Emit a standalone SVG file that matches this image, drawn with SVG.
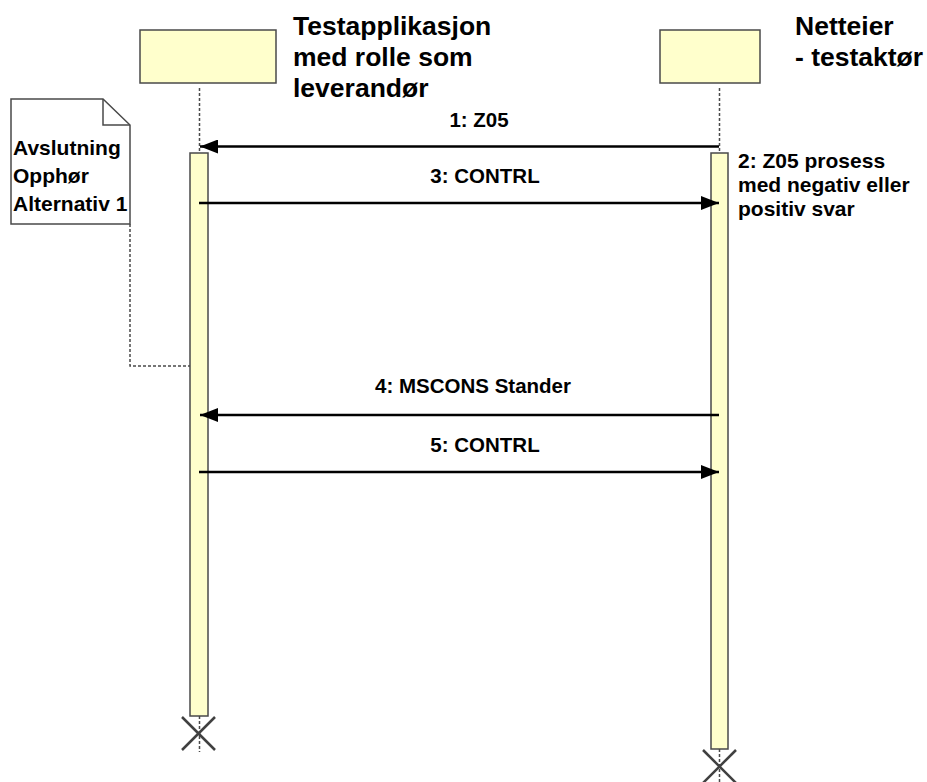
<svg xmlns="http://www.w3.org/2000/svg" width="927" height="782" viewBox="0 0 927 782">
<defs>
<style>
.head{fill:#FFFFCC;stroke:#4a4a4a;stroke-width:1.5}
.act{fill:#FFFFCC;stroke:#4a4a4a;stroke-width:1.5}
.life{stroke:#4a4a4a;stroke-width:1.5;stroke-dasharray:3,2;fill:none}
.msg{stroke:#000;stroke-width:2.5;fill:none}
.t{font-family:"Liberation Sans",Arial,sans-serif;font-weight:bold;fill:#000}
.h{font-size:26.5px}
.l{font-size:20.5px;text-anchor:middle}
.n{font-size:21px}
.x{stroke:#404040;stroke-width:2.5}
</style>
<marker id="ah" viewBox="0 0 18 14" refX="18" refY="7" markerWidth="18" markerHeight="14" markerUnits="userSpaceOnUse" orient="auto">
<path d="M0,0 L18,7 L0,14 z" fill="#000"/>
</marker>
</defs>
<g id="lifeline-left">
<rect class="head" x="140" y="30" width="136" height="53"/>
<line class="life" x1="199.5" y1="88" x2="199.5" y2="153"/>
<rect class="act" x="190" y="153" width="18" height="563"/>
<line class="life" x1="199.5" y1="716" x2="199.5" y2="752"/>
<line class="x" x1="182" y1="717" x2="215" y2="750"/>
<line class="x" x1="215" y1="717" x2="182" y2="750"/>
<text class="t h" x="293" y="35">Testapplikasjon</text>
<text class="t h" x="293" y="66">med rolle som</text>
<text class="t h" x="293" y="97">leverandør</text>
</g>
<g id="lifeline-right">
<rect class="head" x="660" y="30" width="100" height="53"/>
<line class="life" x1="719.5" y1="88" x2="719.5" y2="153"/>
<rect class="act" x="711" y="153" width="17" height="596"/>
<line class="life" x1="719.5" y1="749" x2="719.5" y2="782"/>
<line class="x" x1="703" y1="750" x2="736" y2="783"/>
<line class="x" x1="736" y1="750" x2="703" y2="783"/>
<text class="t h" x="795" y="35">Netteier</text>
<text class="t h" x="795" y="66">- testaktør</text>
</g>
<g id="note">
<path d="M11,99 L103,99 L130,125 L130,224 L11,224 Z" fill="#fff" stroke="#4a4a4a" stroke-width="1.5"/>
<path d="M103,99 L103,125 L130,125" fill="none" stroke="#4a4a4a" stroke-width="1.5"/>
<text class="t n" x="13" y="155">Avslutning</text>
<text class="t n" x="13" y="183">Opphør</text>
<text class="t n" x="13" y="211">Alternativ 1</text>
</g>
<g id="process-label">
<text class="t n" x="738" y="168">2: Z05 prosess</text>
<text class="t n" x="738" y="192">med negativ eller</text>
<text class="t n" x="738" y="216">positiv svar</text>
</g>
<g id="connectors">
<path class="life" d="M130,224 L130,366 L190,366"/>
<line class="msg" x1="719" y1="146.5" x2="200" y2="146.5" marker-end="url(#ah)"/>
<line class="msg" x1="199" y1="203" x2="719" y2="203" marker-end="url(#ah)"/>
<line class="msg" x1="719" y1="415" x2="200" y2="415" marker-end="url(#ah)"/>
<line class="msg" x1="199" y1="472" x2="719" y2="472" marker-end="url(#ah)"/>
<text class="t l" x="479" y="127">1: Z05</text>
<text class="t l" x="485" y="183">3: CONTRL</text>
<text class="t l" x="473" y="393">4: MSCONS Stander</text>
<text class="t l" x="485" y="452">5: CONTRL</text>
</g>
</svg>
